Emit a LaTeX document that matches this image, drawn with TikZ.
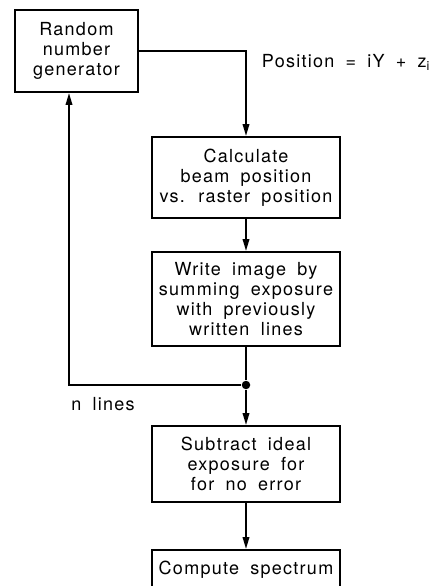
\documentclass[tikz,border=0pt]{standalone}
\usepackage{fontspec}
\setmainfont{TeX Gyre Heros}[LetterSpace=7,WordSpace=1.8]
\usetikzlibrary{arrows.meta}
\begin{document}
\begin{tikzpicture}[x=1pt,y=-1pt,line width=1.9pt,
  txt/.style={font=\fontsize{18}{20}\selectfont},
  box/.style={txt,draw,line width=1.9pt,inner sep=0pt,align=center},
  arr/.style={-{Triangle[length=12pt,width=6.5pt]}}]
\useasboundingbox (0,0) rectangle (435,586);
\node[box,minimum width=123pt,minimum height=82pt] (rng) at (76.5,51) {Random\\number\\generator};
\node[box,minimum width=188pt,minimum height=81pt] (calc) at (246,177.5) {Calculate\\beam position\\vs. raster position};
\node[box,minimum width=188pt,minimum height=94pt] (write) at (246,299) {Write image by\\summing exposure\\with previously\\written lines};
\node[box,minimum width=188pt,minimum height=76pt] (sub) at (246,464) {Subtract ideal\\exposure for\\for no error};
\node[box,minimum width=188pt,minimum height=40pt] (spec) at (246,570) {Compute spectrum};
\node[circle,fill,inner sep=0pt,minimum size=8.5pt] (dot) at (246,385) {};
\coordinate (corner) at (69,385);
\node[txt] (nl) at (103,404) {n lines};
\node[txt] (pos) at (346,62) {Position = iY + z\textsubscript{i}};
\draw[arr] (rng.east) -| (calc.north);
\draw[arr] (calc) -- (write);
\draw (write.south) -- (dot);
\draw[arr] (dot) -- (sub.north);
\draw[arr] (dot) -- (corner) -- (corner |- rng.south);
\draw[arr] (sub) -- (spec);
\end{tikzpicture}
\end{document}
